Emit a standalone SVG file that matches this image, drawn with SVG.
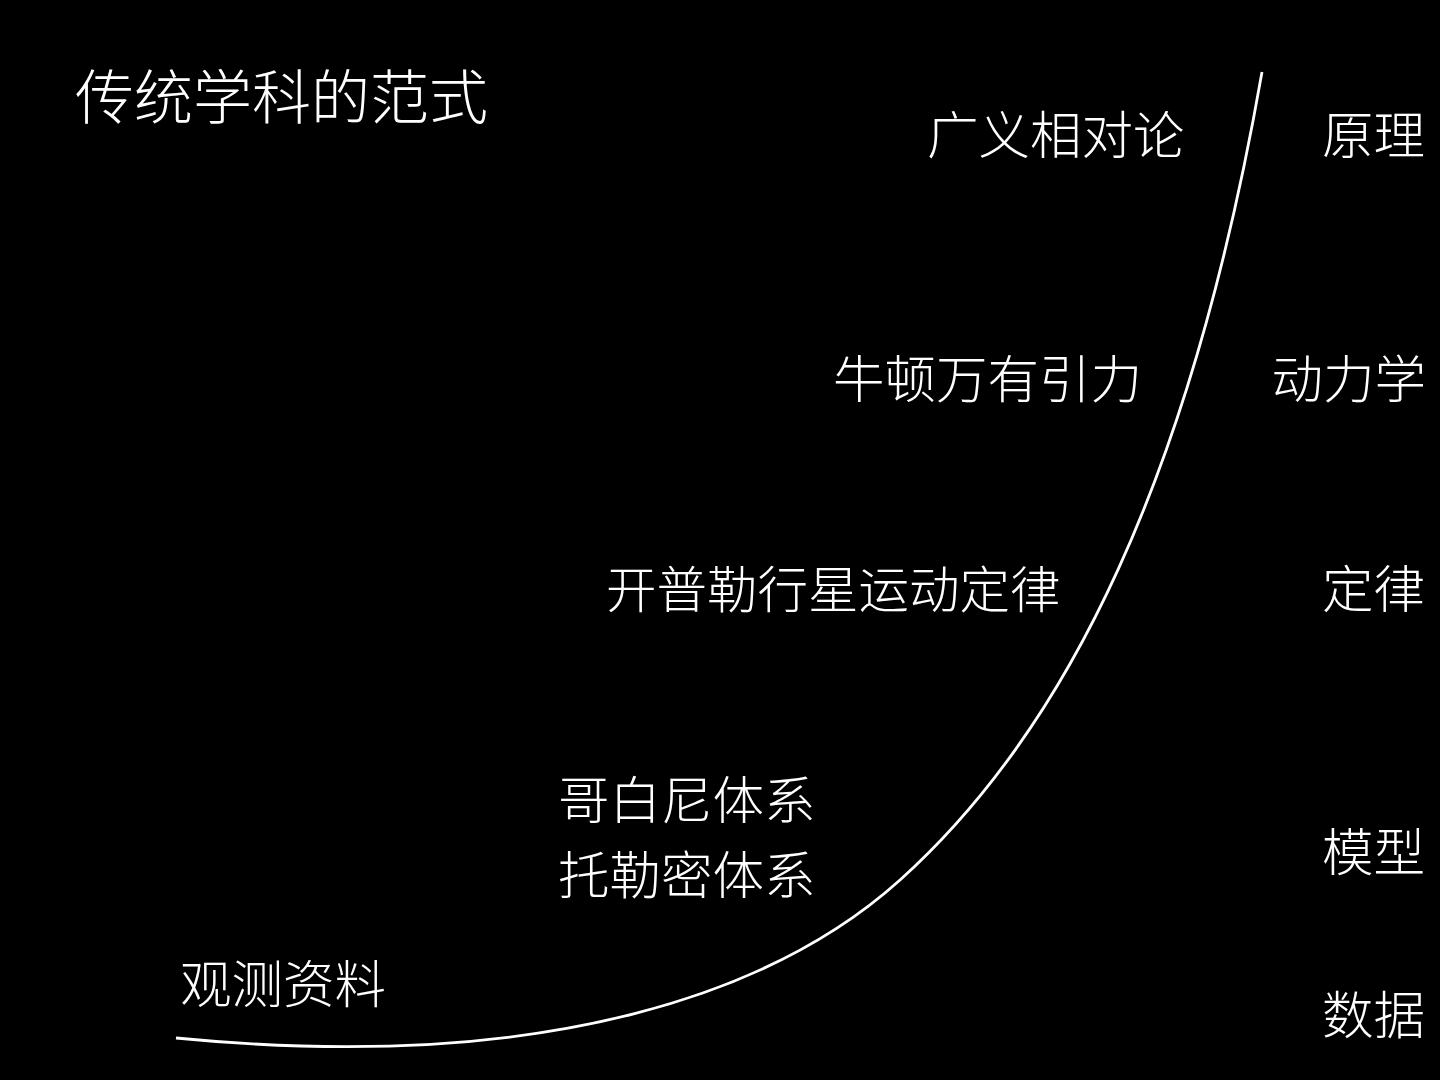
<svg xmlns="http://www.w3.org/2000/svg" width="1440" height="1080" viewBox="0 0 1440 1080">
<style>
text{fill:#fff;font-family:"Noto Sans CJK SC","Noto Sans",sans-serif;font-weight:300;font-size:51.5px}
.r{text-anchor:end}
.t{font-size:59px}
.k{font-size:50.5px}
.c{fill:none;stroke:#fff;stroke-width:2.8}
</style>
<rect width="1440" height="1080" fill="#000"/>
<g id="connectors">
<path class="c" d="M176,1038 C556,1075 780,988 900,880 C1070,727 1192,472 1262,72"/>
</g>
<g id="title"><text class="t" x="75" y="119">传统学科的范式</text></g>
<g id="n-gr"><text x="927" y="154">广义相对论</text></g>
<g id="n-yl"><text class="r" x="1425" y="154">原理</text></g>
<g id="n-nd"><text x="833" y="398">牛顿万有引力</text></g>
<g id="n-dlx"><text class="r" x="1426" y="398">动力学</text></g>
<g id="n-kp"><text class="k" x="606" y="608">开普勒行星运动定律</text></g>
<g id="n-dl"><text class="r" x="1425" y="608">定律</text></g>
<g id="n-gb"><text x="558" y="819">哥白尼体系</text></g>
<g id="n-tl"><text x="558" y="894">托勒密体系</text></g>
<g id="n-mx"><text class="r" x="1425" y="871">模型</text></g>
<g id="n-gc"><text x="180" y="1003">观测资料</text></g>
<g id="n-sj"><text class="r" x="1425" y="1034">数据</text></g>
</svg>
